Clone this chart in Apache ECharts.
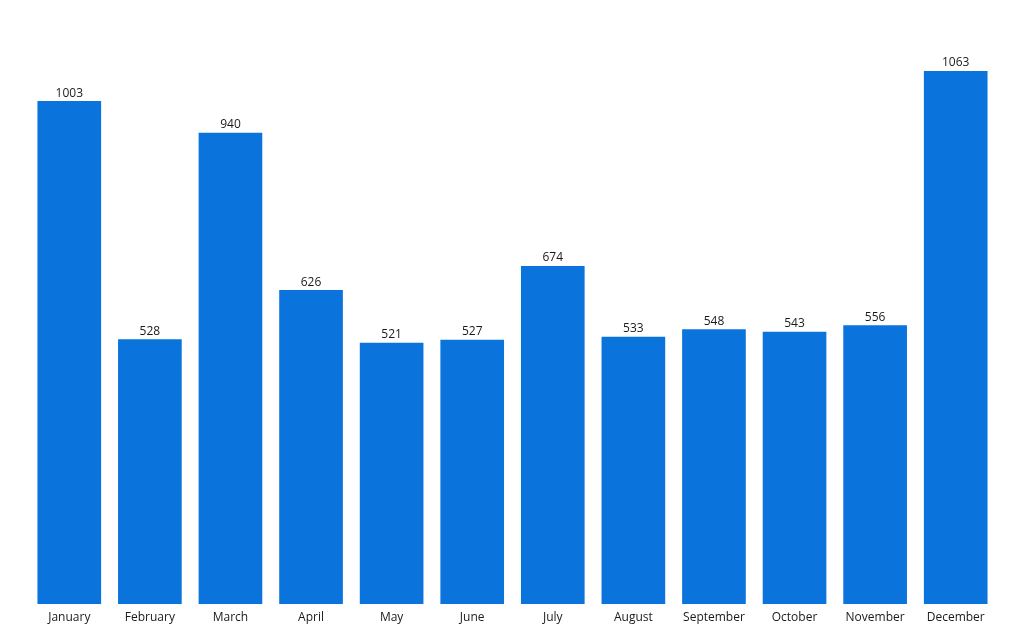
<!DOCTYPE html>
<html><head><meta charset="utf-8">
<script src="https://cdn.jsdelivr.net/npm/echarts@6/dist/echarts.min.js"></script>
<style>html,body{margin:0;padding:0;background:#fff}#c{width:1024px;height:633px}</style>
</head><body><div id="c"></div>
<script>
const categories = ['January','February','March','April','May','June','July','August','September','October','November','December'];
const values = [1003,528,940,626,521,527,674,533,548,543,556,1063];
const chart = echarts.init(document.getElementById('c'));
chart.setOption({
  animation:false,
  grid:{left:29,right:28,top:71,bottom:29,containLabel:false},
  xAxis:{type:'category',data:categories,axisLine:{show:false},axisTick:{show:false},
    axisLabel:{color:'#1a1a1a',fontFamily:'Open Sans',fontSize:12,margin:8}},
  yAxis:{type:'value',min:0,max:1063,show:false,splitLine:{show:false}},
  series:[{type:'bar',data:values,barCategoryGap:'21%',itemStyle:{color:'#0A74DC'},
    label:{show:true,position:'top',color:'#1a1a1a',fontFamily:'Open Sans',fontSize:12,distance:2}}]
});
</script></body></html>
